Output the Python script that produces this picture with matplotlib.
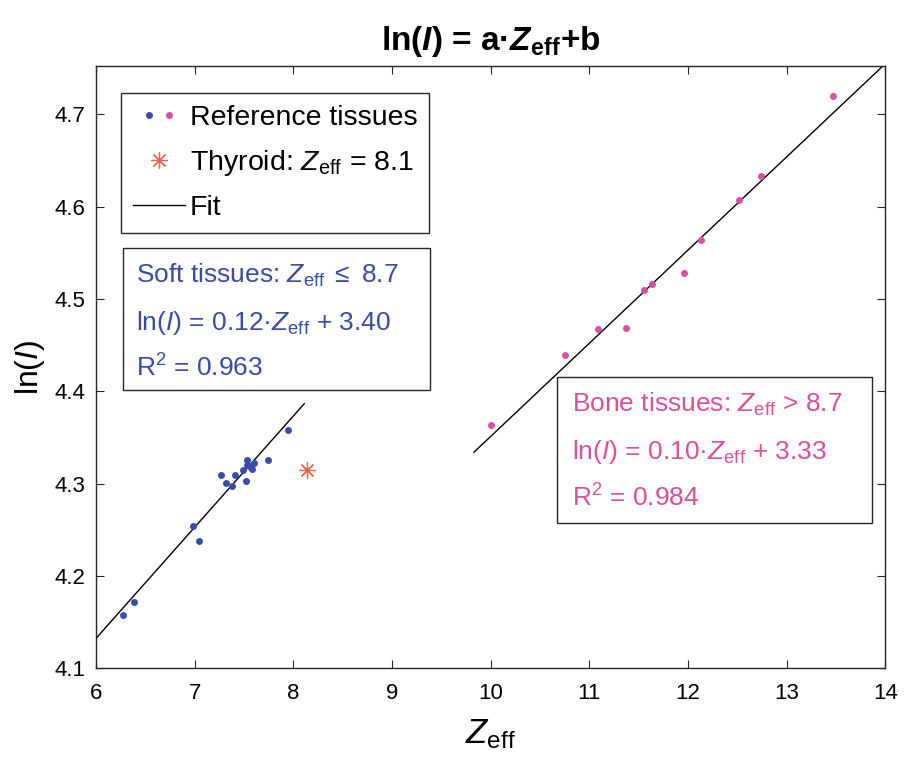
import numpy as np
import matplotlib.pyplot as plt
from matplotlib.legend_handler import HandlerTuple
from matplotlib.lines import Line2D
from matplotlib.patches import Rectangle

# ---------- style ----------
plt.rcParams.update({
    "font.family": "Liberation Sans",
    "mathtext.fontset": "custom",
    "mathtext.rm": "Liberation Sans",
    "mathtext.it": "Liberation Sans:italic",
    "mathtext.bf": "Liberation Sans:bold",
    "mathtext.bfit": "Liberation Sans:italic:bold",
    "axes.linewidth": 1.0,
    "axes.edgecolor": "#262626",
})

# ---------- data ----------
soft_z = [6.27, 6.38, 6.98, 7.04, 7.27, 7.32, 7.38, 7.41, 7.49, 7.52,
          7.53, 7.53, 7.545, 7.58, 7.60, 7.74, 7.95]
soft_ln = [4.158, 4.172, 4.254, 4.238, 4.309, 4.301, 4.297, 4.309, 4.315, 4.303,
           4.325, 4.320, 4.319, 4.316, 4.322, 4.325, 4.358]

bone_z = [10.00, 10.75, 11.09, 11.375, 11.55, 11.64, 11.955, 12.13, 12.52, 12.745, 13.47]
bone_ln = [4.363, 4.439, 4.467, 4.468, 4.510, 4.516, 4.528, 4.564, 4.607, 4.633, 4.720]

thyroid_z = [8.14]
thyroid_ln = [4.315]

# fit lines: slope, intercept, drawn range
soft_fit = (0.1204, 3.410)
soft_range = [6.0, 8.11]
bone_fit = (0.1009, 3.342)
bone_range = [9.83, 14.0]

xticks = [6, 7, 8, 9, 10, 11, 12, 13, 14]
yticks = [4.1, 4.2, 4.3, 4.4, 4.5, 4.6, 4.7]

blue = "#3A4BA8"
pink = "#DA4FA0"
red = "#F4644E"

# ---------- figure ----------
fig = plt.figure(figsize=(9.07, 7.61), dpi=100)
ax = fig.add_axes([0.106, 0.122, 0.87, 0.791])

xs = np.array(soft_range)
ax.plot(xs, soft_fit[0] * xs + soft_fit[1], color="black", lw=1.0)
xb = np.array(bone_range)
ax.plot(xb, bone_fit[0] * xb + bone_fit[1], color="black", lw=1.0)

ax.plot(soft_z, soft_ln, "o", color=blue, ms=5, mec="none")
ax.plot(bone_z, bone_ln, "o", color=pink, ms=5, mec="none")
ax.plot(thyroid_z, thyroid_ln, ls="none", marker=(8, 2, 0), color=red, ms=12, mew=0.9)

ax.set_xlim(6, 14)
ax.set_ylim(4.1, 4.752)
ax.set_xticks(xticks)
ax.set_yticks(yticks)
ax.tick_params(direction="in", top=True, right=True, length=6, width=0.8,
               labelsize=16, colors="#262626", labelcolor="black")
ax.tick_params(axis="x", pad=11)
ax.tick_params(axis="y", pad=8)

ax.set_xlabel(r"$Z_{\rm eff}$", fontsize=25, labelpad=9)
ax.set_ylabel(r"ln($I$)", fontsize=23, labelpad=5)
ax.set_title(r"ln($\mathbfit{I}$) = a·$\mathbfit{Z}_{\mathbf{eff}}$+b",
             fontsize=24, fontweight="bold", pad=12)

# legend
dot_b = Line2D([], [], ls="none", marker="o", color=blue, ms=5, mec="none")
dot_p = Line2D([], [], ls="none", marker="o", color=pink, ms=5, mec="none")
star = Line2D([], [], ls="none", marker=(8, 2, 0), color=red, ms=12, mew=0.9)
fit = Line2D([], [], color="black", lw=1.0)
leg = ax.legend([(dot_b, dot_p), star, fit],
                ["Reference tissues", r"Thyroid: $Z_{\rm eff}$ = 8.1", "Fit"],
                handler_map={tuple: HandlerTuple(ndivide=None, pad=-0.45)},
                loc="upper left", bbox_to_anchor=(0.032, 0.955),
                fontsize=20.5, frameon=True, fancybox=False, framealpha=1,
                edgecolor="#262626", borderaxespad=0, handlelength=1.8,
                handletextpad=0.18, labelspacing=0.6, borderpad=0.42)
leg.get_frame().set_linewidth(1.0)

# fit annotation boxes
ax.add_patch(Rectangle((0.034, 0.462), 0.389, 0.236, transform=ax.transAxes,
                       fill=False, ec="#262626", lw=1.0))
soft_lines = [r"Soft tissues: $Z_{\rm eff}\;\leq$ 8.7",
              r"ln($I$) = 0.12·$Z_{\rm eff}$ + 3.40",
              r"R$^2$ = 0.963"]
for i, s in enumerate(soft_lines):
    ax.text(0.051, 0.64 - i * 0.0775, s, transform=ax.transAxes, color=blue,
            fontsize=19, va="baseline")

ax.add_patch(Rectangle((0.584, 0.241), 0.3995, 0.2425, transform=ax.transAxes,
                       fill=False, ec="#262626", lw=1.0))
bone_lines = [r"Bone tissues: $Z_{\rm eff}$ > 8.7",
              r"ln($I$) = 0.10·$Z_{\rm eff}$ + 3.33",
              r"R$^2$ = 0.984"]
for i, s in enumerate(bone_lines):
    ax.text(0.603, 0.426 - i * 0.079, s, transform=ax.transAxes, color=pink,
            fontsize=19, va="baseline")

fig.savefig("out.png", dpi=100)
